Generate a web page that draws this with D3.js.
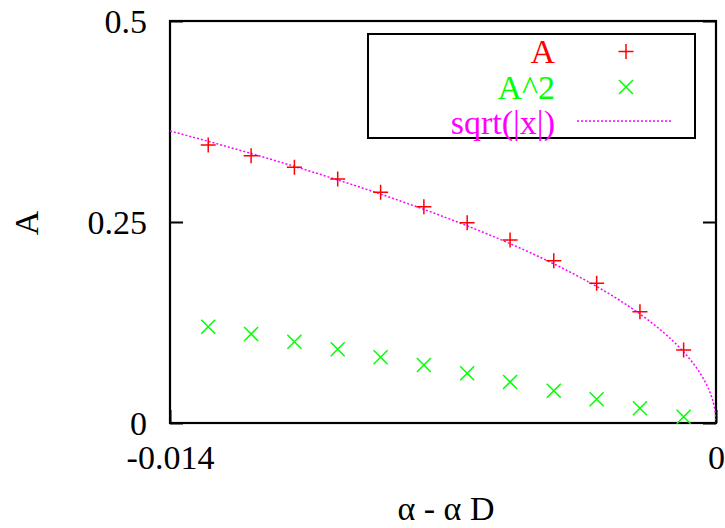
<!DOCTYPE html>
<html>
<head>
<meta charset="utf-8">
<script src="https://cdn.jsdelivr.net/npm/d3@7"></script>
<style>
  html, body { margin: 0; padding: 0; background: #fff; }
  svg { display: block; }
  text { font-family: "Liberation Serif", "Times New Roman", serif; }
</style>
</head>
<body>
<svg id="chart" width="725" height="528"></svg>
<script>
// Order-parameter amplitude A and A^2 versus the distance to the critical point
const xValues  = [-0.01302, -0.01192, -0.01081, -0.00970, -0.00860, -0.00749,
                  -0.00638, -0.00528, -0.00416, -0.00306, -0.00195, -0.00083];
const aValues  = [0.3458, 0.3325, 0.3180, 0.3035, 0.2869, 0.2690,
                  0.2491, 0.2276, 0.2019, 0.1738, 0.1384, 0.0908];
const a2Values = [0.1198, 0.1107, 0.1011, 0.0917, 0.0817, 0.0721,
                  0.0618, 0.0510, 0.0402, 0.0295, 0.0183, 0.0078];

// Square-root law c*sqrt(|x|) drawn as a reference curve
const sqrtCoeff = 3.07;

const xTicks = [-0.014, 0];
const xTickLabels = ["-0.014", "0"];
const yTicks = [0, 0.25, 0.5];
const yTickLabels = ["0", "0.25", "0.5"];

const seriesNames = ["A", "A^2", "sqrt(|x|)"];
const seriesColors = ["#ff0000", "#00ff00", "#ff00ff"];

const svg = d3.select("#chart");
const pLeft = 170, pRight = 716, pTop = 21, pBottom = 423;
const fs = 34;

const x = d3.scaleLinear().domain([-0.014, 0]).range([pLeft, pRight]);
const y = d3.scaleLinear().domain([0, 0.5]).range([pBottom, pTop]);

// Axes: inward ticks on both sides, labels outside
const yAxis = d3.axisLeft(y).tickValues(yTicks)
  .tickFormat((d, i) => yTickLabels[i]).tickSize(-13).tickPadding(23);
const yAxisR = d3.axisRight(y).tickValues(yTicks).tickFormat("").tickSize(-13);
const xAxis = d3.axisBottom(x).tickValues(xTicks)
  .tickFormat((d, i) => xTickLabels[i]).tickSize(-13).tickPadding(22);

function styleAxis(g) {
  g.select(".domain").remove();
  g.selectAll(".tick line").attr("stroke", "#000").attr("stroke-width", 2);
  g.selectAll(".tick text").attr("fill", "#000")
    .style("font-size", fs + "px")
    .style("font-family", '"Liberation Serif", "Times New Roman", serif');
}

svg.append("g").attr("transform", `translate(${pLeft},0)`).call(yAxis).call(styleAxis)
  .selectAll(".tick text").attr("dy", "0.35em");
svg.append("g").attr("transform", `translate(${pRight},0)`).call(yAxisR).call(styleAxis);
svg.append("g").attr("transform", `translate(0,${pBottom})`).call(xAxis).call(styleAxis);

// Plot frame
svg.append("rect")
  .attr("x", pLeft).attr("y", pTop)
  .attr("width", pRight - pLeft).attr("height", pBottom - pTop)
  .attr("fill", "none").attr("stroke", "#000").attr("stroke-width", 2.2);

// Axis titles
svg.append("text")
  .attr("x", (pLeft + pRight) / 2 + 3).attr("y", 520)
  .attr("text-anchor", "middle").style("font-size", fs + "px")
  .text("α - α D");
svg.append("text")
  .attr("transform", "translate(38,223) rotate(-90)")
  .attr("text-anchor", "middle").style("font-size", fs + "px")
  .text("A");

// Clip region for the curve
svg.append("clipPath").attr("id", "plotClip")
  .append("rect").attr("x", pLeft).attr("y", pTop)
  .attr("width", pRight - pLeft).attr("height", pBottom - pTop);

// Reference curve, sampled densely near x = 0 where it is steep
const curveX = d3.range(0, 501).map(i => -0.014 * Math.pow(1 - i / 500, 2));
const line = d3.line()
  .x(d => x(d))
  .y(d => y(sqrtCoeff * Math.sqrt(Math.abs(d))));
svg.append("path")
  .datum(curveX)
  .attr("clip-path", "url(#plotClip)")
  .attr("d", line)
  .attr("fill", "none")
  .attr("stroke", seriesColors[2])
  .attr("stroke-width", 1.5)
  .attr("stroke-dasharray", "2,2");

// Marker shapes
const plusPath = s => `M${-s},0H${s}M0,${-s}V${s}`;
const crossPath = s => `M${-s},${-s}L${s},${s}M${-s},${s}L${s},${-s}`;

svg.append("g").selectAll("path")
  .data(xValues.map((d, i) => [d, aValues[i]]))
  .join("path")
  .attr("transform", d => `translate(${x(d[0])},${y(d[1])})`)
  .attr("d", plusPath(7.5))
  .attr("stroke", seriesColors[0]).attr("stroke-width", 1.5).attr("fill", "none");

svg.append("g").selectAll("path")
  .data(xValues.map((d, i) => [d, a2Values[i]]))
  .join("path")
  .attr("transform", d => `translate(${x(d[0])},${y(d[1])})`)
  .attr("d", crossPath(7))
  .attr("stroke", seriesColors[1]).attr("stroke-width", 1.5).attr("fill", "none");

// Legend
const lg = svg.append("g");
lg.append("rect")
  .attr("x", 368).attr("y", 34).attr("width", 327).attr("height", 104)
  .attr("fill", "#fff").attr("stroke", "#000").attr("stroke-width", 2);

const rowY = [51.5, 87, 122];
seriesNames.forEach((name, i) => {
  lg.append("text")
    .attr("x", 555).attr("y", rowY[i] + 11.5)
    .attr("text-anchor", "end")
    .attr("fill", seriesColors[i])
    .style("font-size", fs + "px")
    .text(name);
});
lg.append("path").attr("transform", `translate(626,${rowY[0]})`)
  .attr("d", plusPath(7.5)).attr("stroke", seriesColors[0]).attr("stroke-width", 1.5);
lg.append("path").attr("transform", `translate(626,${rowY[1]})`)
  .attr("d", crossPath(7)).attr("stroke", seriesColors[1]).attr("stroke-width", 1.5);
lg.append("line")
  .attr("x1", 577).attr("x2", 672).attr("y1", rowY[2] - 1).attr("y2", rowY[2] - 1)
  .attr("stroke", seriesColors[2]).attr("stroke-width", 1.5)
  .attr("stroke-dasharray", "2,2");
</script>
</body>
</html>
